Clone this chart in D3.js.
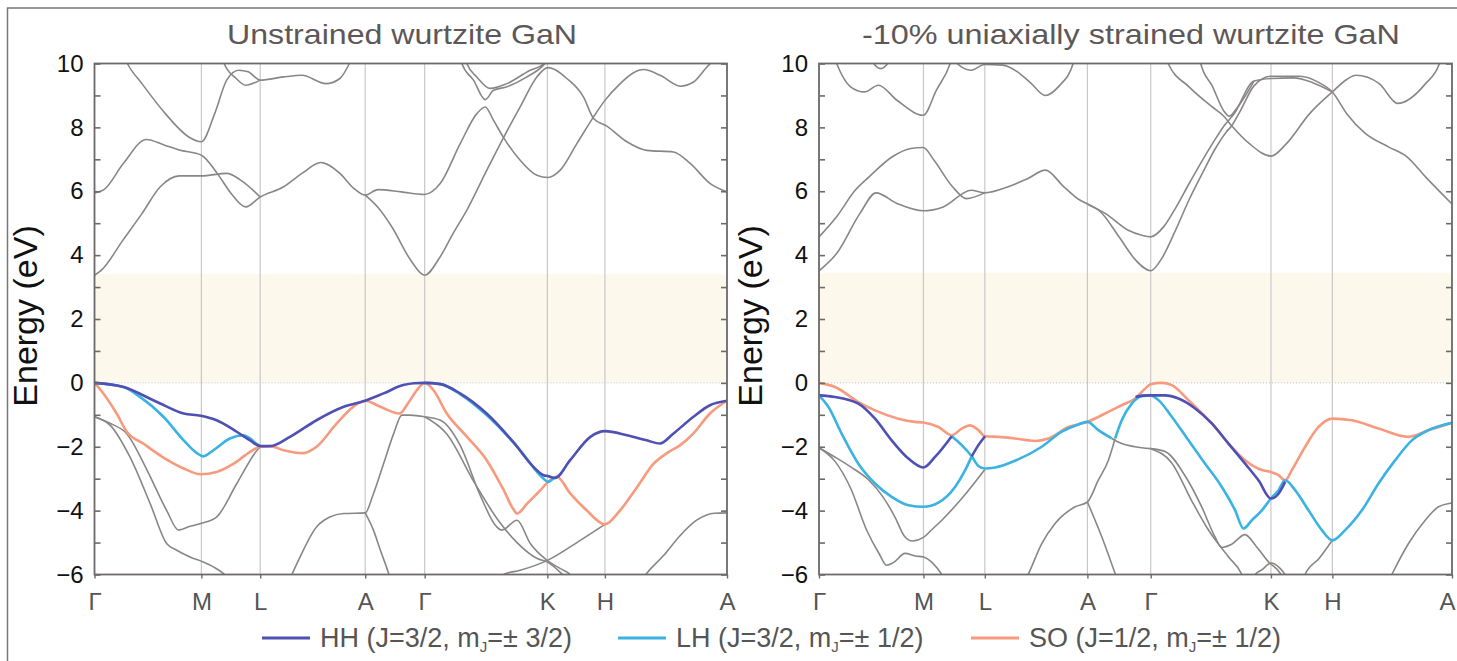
<!DOCTYPE html>
<html>
<head>
<meta charset="utf-8">
<script src="https://cdn.jsdelivr.net/npm/d3@7"></script>
<style>
  html, body { margin: 0; padding: 0; background: #fff; }
  svg { display: block; font-family: "Liberation Sans", Arial, Helvetica, sans-serif; }
</style>
</head>
<body>
<svg id="chart" width="1457" height="661"></svg>
<script>
// ---- data: k path (fraction of path length), energies in eV ----
const kLabels = ["Γ", "M", "L", "A", "Γ", "K", "H", "A"];
const kPosUnstrained = [0, 0.169, 0.262, 0.428, 0.522, 0.716, 0.807, 1];
const kPosStrained = [0, 0.165, 0.262, 0.424, 0.524, 0.714, 0.811, 1];
const energyTicks = [-6, -4, -2, 0, 2, 4, 6, 8, 10];
const titles = ["Unstrained wurtzite GaN", "-10% uniaxially strained wurtzite GaN"];
const gapUnstrained = [0, 3.4];
const gapStrained = [0, 3.45];
const legendNames = ["HH", "LH", "SO"];
const legendJ = ["3/2", "3/2", "1/2"];
const legendMJ = ["± 3/2", "± 1/2", "± 1/2"];

// unstrained valence, coloured
const unstrainedHH = [[0,0],[0.046,-0.13],[0.098,-0.59],[0.141,-0.96],[0.168,-1.03],[0.193,-1.17],[0.225,-1.53],[0.246,-1.8],[0.262,-1.98],[0.278,-1.98],[0.309,-1.69],[0.351,-1.17],[0.394,-0.75],[0.428,-0.56],[0.457,-0.33],[0.488,-0.07],[0.505,-0.01],[0.522,0],[0.547,-0.04],[0.578,-0.33],[0.62,-0.96],[0.662,-1.85],[0.694,-2.63],[0.71,-2.89],[0.717,-2.92],[0.728,-2.98],[0.752,-2.42],[0.784,-1.69],[0.807,-1.51],[0.842,-1.64],[0.873,-1.8],[0.894,-1.9],[0.915,-1.59],[0.947,-1.06],[0.973,-0.7],[1,-0.56]];
const unstrainedLH1 = [[0,0],[0.046,-0.13],[0.072,-0.44],[0.109,-1.06],[0.141,-1.8],[0.162,-2.2],[0.172,-2.3],[0.188,-2.11],[0.214,-1.74],[0.236,-1.64],[0.246,-1.74],[0.257,-1.92],[0.262,-1.98]];
const unstrainedLH2 = [[0.522,0],[0.547,-0.04],[0.578,-0.35],[0.62,-1.01],[0.673,-2.11],[0.71,-3.0],[0.717,-3.1],[0.726,-2.99],[0.731,-2.94]];
const unstrainedSO = [[0,0],[0.014,-0.33],[0.035,-0.96],[0.051,-1.53],[0.077,-1.9],[0.109,-2.34],[0.141,-2.68],[0.167,-2.86],[0.193,-2.79],[0.22,-2.53],[0.246,-2.16],[0.262,-2.0],[0.278,-1.98],[0.299,-2.11],[0.33,-2.2],[0.351,-2.0],[0.383,-1.27],[0.409,-0.75],[0.428,-0.56],[0.452,-0.75],[0.482,-0.96],[0.497,-0.6],[0.51,-0.22],[0.522,0],[0.536,-0.23],[0.557,-0.96],[0.589,-1.69],[0.62,-2.42],[0.647,-3.36],[0.662,-3.95],[0.668,-4.09],[0.684,-3.78],[0.705,-3.36],[0.717,-3.1],[0.731,-2.94],[0.752,-3.46],[0.778,-3.99],[0.807,-4.43],[0.831,-3.99],[0.858,-3.26],[0.884,-2.53],[0.905,-2.2],[0.926,-1.95],[0.947,-1.58],[0.973,-0.96],[1,-0.56]];

// unstrained other bands (grey)
const unstrainedGray = [
  [[0,-1.06],[0.025,-1.27],[0.051,-1.59],[0.083,-2.73],[0.114,-3.99],[0.133,-4.61],[0.15,-4.5],[0.168,-4.4],[0.193,-4.2],[0.225,-3.15],[0.257,-2.11],[0.262,-2.0]],
  [[0,-1.06],[0.025,-1.33],[0.056,-2.32],[0.088,-3.78],[0.114,-5.03],[0.13,-5.24],[0.151,-5.45],[0.172,-5.61],[0.188,-5.76],[0.204,-5.97],[0.215,-6.2]],
  [[0.305,-6.3],[0.312,-6.0],[0.32,-5.66],[0.351,-4.51],[0.372,-4.2],[0.394,-4.09],[0.428,-4.07],[0.441,-3.47],[0.457,-2.53],[0.473,-1.59],[0.486,-1.01],[0.499,-1.01],[0.522,-1.06]],
  [[0.428,-4.07],[0.441,-4.61],[0.452,-5.24],[0.465,-5.97],[0.47,-6.3]],
  [[0.522,-1.06],[0.547,-1.17],[0.578,-1.95],[0.61,-3.53],[0.636,-4.51],[0.644,-4.61],[0.668,-4.3],[0.689,-5.03],[0.715,-5.55],[0.736,-5.81],[0.752,-6.0],[0.76,-6.2]],
  [[0.522,-1.06],[0.557,-1.6],[0.6,-3.1],[0.64,-4.35],[0.668,-5.0],[0.7,-5.5],[0.717,-5.62],[0.74,-6.0],[0.75,-6.2]],
  [[0.64,-6.2],[0.647,-6.0],[0.673,-5.87],[0.717,-5.55],[0.768,-4.93],[0.807,-4.43]],
  [[0.865,-6.2],[0.873,-5.97],[0.9,-5.4],[0.925,-4.8],[0.952,-4.3],[0.98,-4.08],[1,-4.07]],
  [[0,3.37],[0.011,3.53],[0.045,4.47],[0.075,5.3],[0.104,6.14],[0.134,6.48],[0.169,6.48],[0.209,6.56],[0.231,6.35],[0.262,5.82]],
  [[0,5.95],[0.015,6.05],[0.045,6.85],[0.082,7.62],[0.11,7.45],[0.134,7.29],[0.169,7.13],[0.194,6.56],[0.216,5.93],[0.239,5.51],[0.262,5.82],[0.299,6.14],[0.328,6.56],[0.358,6.9],[0.388,6.56],[0.41,6.09],[0.428,5.88],[0.448,6.05],[0.485,5.98],[0.522,5.9],[0.5465,6.24],[0.5782,7.49],[0.6045,8.43],[0.6177,8.64],[0.6309,8.22],[0.6467,7.68],[0.673,6.97],[0.6994,6.5],[0.7168,6.43],[0.7363,6.66],[0.7626,7.49],[0.789,8.33],[0.8064,8.83],[0.8312,9.37],[0.8522,9.71],[0.868,9.81],[0.8944,9.63],[0.926,9.29],[0.9471,9.42],[0.9682,9.89],[0.9735,10],[0.98,10.3]],
  [[0.428,5.88],[0.448,5.5],[0.47,4.89],[0.5,3.84],[0.522,3.37],[0.545,3.9],[0.567,4.68],[0.5887,5.41],[0.6203,6.66],[0.6467,7.68],[0.673,8.64],[0.6994,9.58],[0.7168,9.87],[0.7468,9.53],[0.7732,8.95],[0.789,8.28],[0.81,8.04],[0.8417,7.55],[0.8733,7.28],[0.9155,7.23],[0.9418,6.87],[0.9735,6.24],[1,5.98]],
  [[0.045,10.3],[0.052,10],[0.075,9.37],[0.112,8.43],[0.149,7.7],[0.169,7.55],[0.19,8.43],[0.209,9.48],[0.228,9.79],[0.243,9.74],[0.262,9.48],[0.299,9.58],[0.328,9.63],[0.366,9.37],[0.388,9.53],[0.403,10],[0.41,10.3]],
  [[0.2,10.3],[0.205,10],[0.224,9.53],[0.239,9.32],[0.262,9.48]],
  [[0.578,10.3],[0.5808,10],[0.5992,9.48],[0.6177,8.87],[0.6309,9.16],[0.652,9.27],[0.6836,9.58],[0.7099,9.95],[0.72,10.2]],
  [[0.585,10.3],[0.5887,10],[0.6045,9.58],[0.6256,9.22],[0.652,9.37],[0.6888,9.79],[0.7099,9.98],[0.72,10.2]]
];

// strained valence, coloured
const strainedHH1 = [[0,-0.39],[0.0253,-0.44],[0.0622,-0.65],[0.0885,-1.12],[0.1148,-1.8],[0.1412,-2.37],[0.1649,-2.65],[0.1833,-2.32],[0.2097,-1.67]];
const strainedHH2 = [[0.2413,-2.3],[0.2518,-1.95],[0.2623,-1.67]];
const strainedHH3 = [[0.5,-0.44],[0.5099,-0.4],[0.524,-0.39],[0.5468,-0.39],[0.5679,-0.49],[0.5942,-0.8],[0.6205,-1.27],[0.6469,-1.9],[0.6732,-2.53],[0.6943,-3.05],[0.714,-3.62],[0.7259,-3.47],[0.7364,-3.1]];
const strainedLH1 = [[0,-0.39],[0.0147,-0.75],[0.0358,-1.59],[0.0622,-2.53],[0.0885,-3.15],[0.1148,-3.57],[0.1412,-3.83],[0.1649,-3.88],[0.1886,-3.75],[0.2149,-3.26],[0.2307,-2.74],[0.2413,-2.3]];
const strainedLH2 = [[0.2097,-1.67],[0.2255,-1.95],[0.2413,-2.3],[0.2518,-2.6],[0.2623,-2.68],[0.2781,-2.65],[0.3097,-2.44],[0.3519,-2.0],[0.3835,-1.53],[0.4098,-1.3],[0.424,-1.22],[0.4414,-1.48],[0.4625,-1.74]];
const strainedLH3 = [[0.4678,-1.74],[0.4783,-1.17],[0.4941,-0.65],[0.5099,-0.42],[0.524,-0.39],[0.5363,-0.54],[0.5573,-1.06],[0.5837,-1.8],[0.61,-2.53],[0.6364,-3.26],[0.6574,-3.99],[0.6706,-4.56],[0.6838,-4.3],[0.6996,-3.99],[0.714,-3.62],[0.7259,-3.36],[0.7364,-3.05],[0.7522,-3.36],[0.7733,-3.99],[0.7944,-4.61],[0.811,-4.93],[0.8312,-4.61],[0.8576,-3.99],[0.8839,-3.15],[0.9103,-2.42],[0.9366,-1.8],[0.9629,-1.48],[1,-1.25]];
const strainedSO = [[0,0],[0.0253,-0.13],[0.0622,-0.6],[0.0885,-0.86],[0.1254,-1.12],[0.1517,-1.22],[0.1649,-1.24],[0.1886,-1.38],[0.2097,-1.64],[0.2255,-1.43],[0.2387,-1.33],[0.2518,-1.48],[0.2623,-1.67],[0.2834,-1.69],[0.3097,-1.74],[0.3413,-1.82],[0.3624,-1.74],[0.394,-1.38],[0.424,-1.22],[0.4519,-0.96],[0.4783,-0.7],[0.4994,-0.49],[0.5152,-0.18],[0.524,-0.04],[0.5415,0],[0.5573,-0.07],[0.5837,-0.54],[0.6205,-1.27],[0.6469,-1.9],[0.6732,-2.42],[0.6996,-2.73],[0.714,-2.79],[0.7259,-2.89],[0.7364,-3.05],[0.747,-2.73],[0.768,-2.0],[0.7891,-1.38],[0.811,-1.12],[0.8418,-1.17],[0.8839,-1.43],[0.9313,-1.69],[0.9629,-1.48],[1,-1.25]];

// strained other bands (grey)
const strainedGray = [
  [[0,-2.03],[0.025,-2.32],[0.05,-2.63],[0.079,-3.05],[0.101,-3.57],[0.12,-4.2],[0.135,-4.8],[0.148,-4.95],[0.165,-4.84],[0.178,-4.6],[0.194,-4.3],[0.2255,-3.62],[0.262,-2.71]],
  [[0,-2.03],[0.025,-2.45],[0.05,-3.3],[0.075,-4.6],[0.095,-5.35],[0.107,-5.71],[0.118,-5.62],[0.136,-5.34],[0.152,-5.42],[0.165,-5.45],[0.18,-5.65],[0.194,-6],[0.2,-6.2]],
  [[0.325,-6.2],[0.331,-5.97],[0.3519,-5.03],[0.373,-4.4],[0.4046,-3.88],[0.424,-3.73],[0.4414,-3.04],[0.4572,-2.42],[0.4678,-1.74]],
  [[0.424,-3.73],[0.4467,-4.82],[0.4678,-5.97],[0.472,-6.2]],
  [[0.4625,-1.74],[0.4783,-1.9],[0.4994,-2.0],[0.524,-2.06]],
  [[0.524,-2.06],[0.5468,-2.15],[0.578,-2.9],[0.605,-3.9],[0.625,-4.8],[0.636,-5.15],[0.652,-5.05],[0.673,-4.75],[0.69,-5.1],[0.71,-5.6],[0.73,-6],[0.735,-6.2]],
  [[0.524,-2.06],[0.557,-2.5],[0.589,-3.7],[0.615,-4.6],[0.647,-5.45],[0.668,-6],[0.672,-6.2]],
  [[0.685,-6.2],[0.689,-6],[0.7,-5.85],[0.714,-5.64],[0.728,-5.8],[0.736,-6],[0.74,-6.2]],
  [[0.765,-6.2],[0.768,-6],[0.79,-5.5],[0.811,-4.93]],
  [[0.9,-6.2],[0.905,-6],[0.9313,-5.03],[0.9577,-4.3],[0.9788,-3.88],[1,-3.76]],
  [[0,3.51],[0.0278,4.05],[0.0645,5.3],[0.0901,5.95],[0.1231,5.62],[0.1648,5.39],[0.1963,5.51],[0.2403,6.03],[0.2615,5.95],[0.2989,6.14],[0.33,6.4],[0.3575,6.66],[0.3868,6.14],[0.41,5.75],[0.424,5.6],[0.4527,5.3],[0.4894,4.77],[0.51,4.62],[0.524,4.57],[0.545,4.9],[0.5626,5.45],[0.585,6.25],[0.6066,7.0],[0.625,7.6],[0.64,8.05],[0.655,8.4],[0.6872,9.45],[0.714,9.53],[0.75,9.55],[0.78,9.4],[0.811,9.11]],
  [[0,4.57],[0.0278,5.2],[0.0571,6.03],[0.0791,6.45],[0.1158,7.08],[0.145,7.34],[0.1648,7.37],[0.1817,6.97],[0.211,6.14],[0.233,5.77],[0.2615,5.95]],
  [[0.424,5.6],[0.445,5.35],[0.4747,4.55],[0.5,3.85],[0.524,3.51],[0.54,3.85],[0.5626,4.75],[0.585,5.75],[0.6066,6.6],[0.625,7.3],[0.6432,7.85],[0.652,8.05],[0.6652,8.5],[0.6872,9.3],[0.714,9.6],[0.76,9.6],[0.79,9.4],[0.811,9.11],[0.8337,8.43],[0.863,7.81],[0.8996,7.39],[0.9289,7.08],[0.9582,6.45],[1,5.6]],
  [[0.548,10.3],[0.5516,10],[0.5846,9.27],[0.6212,8.64],[0.6396,8.35],[0.652,8.05],[0.68,7.49],[0.714,7.1],[0.7385,7.49],[0.7751,8.43],[0.811,9.11],[0.8337,9.5],[0.8484,9.63],[0.885,9.37],[0.9143,8.75],[0.9582,9.37],[0.9802,10],[0.985,10.3]],
  [[0.6,10.3],[0.603,10],[0.6212,9.3],[0.64,8.5],[0.648,8.35],[0.66,8.6],[0.6872,9.45]],
  [[0.022,10.3],[0.0278,10],[0.0498,9.27],[0.0718,9.11],[0.0938,9.32],[0.1231,8.85],[0.1648,8.38],[0.1853,9.16],[0.2073,10],[0.212,10.3]],
  [[0.083,10.3],[0.0865,10],[0.0974,9.84],[0.1084,10],[0.112,10.3]],
  [[0.214,10.3],[0.2183,10],[0.2403,9.79],[0.2615,9.97],[0.29,9.95],[0.3136,9.74],[0.3355,9.37],[0.3575,9.0],[0.3795,9.3],[0.4015,10],[0.405,10.3]]
];

// ---- layout & style ----
const layout = {
  top: 63.5, bottom: 574.5,
  boxes: [{left: 94.5, right: 727}, {left: 819, right: 1452}],
  titleX: [402, 1131], titleW: [350, 538], titleY: 44,
  ylabelX: [37, 762], ylabelY: 316,
  legendY: 638, legendLineX: [262, 618, 971], legendLineW: 48
};
const colors = {HH: "#4f50b4", LH: "#3ab2e3", SO: "#f79a7e", gray: "#8a8686", grid: "#cbc7c7", frame: "#6e6a6a", gap: "#fcf8ec"};

const panels = [
  {id: 0, kPos: kPosUnstrained, gap: gapUnstrained, gray: unstrainedGray, so: [unstrainedSO], lh: [unstrainedLH1, unstrainedLH2], hh: [unstrainedHH]},
  {id: 1, kPos: kPosStrained, gap: gapStrained, gray: strainedGray, so: [strainedSO], lh: [strainedLH1, strainedLH2, strainedLH3], hh: [strainedHH1, strainedHH2, strainedHH3]}
];

const svg = d3.select("#chart");
const defs = svg.append("defs");

// outer frame of the figure
svg.append("rect")
  .attr("x", 7.5).attr("y", 8)
  .attr("width", 1480).attr("height", 700)
  .attr("fill", "none").attr("stroke", "#777").attr("stroke-width", 1.5);

function drawPanel(p) {
  const box = layout.boxes[p.id];
  const x = d3.scaleLinear().domain([0, 1]).range([box.left, box.right]);
  const y = d3.scaleLinear().domain([-6, 10]).range([layout.bottom, layout.top]);

  defs.append("clipPath").attr("id", "clip" + p.id)
    .append("rect")
    .attr("x", box.left).attr("y", layout.top)
    .attr("width", box.right - box.left).attr("height", layout.bottom - layout.top);

  const g = svg.append("g");
  const plot = g.append("g").attr("clip-path", `url(#clip${p.id})`);

  // band gap region
  plot.append("rect")
    .attr("x", x(0)).attr("y", y(p.gap[1]))
    .attr("width", x(1) - x(0)).attr("height", y(p.gap[0]) - y(p.gap[1]))
    .attr("fill", colors.gap);

  plot.append("line")
    .attr("x1", x(0)).attr("x2", x(1)).attr("y1", y(0)).attr("y2", y(0))
    .attr("stroke", "#b9cad6").attr("stroke-width", 1).attr("stroke-dasharray", "1,2");

  plot.selectAll("line.kline")
    .data(p.kPos)
    .join("line")
    .attr("class", "kline")
    .attr("x1", d => x(d)).attr("x2", d => x(d))
    .attr("y1", layout.top).attr("y2", layout.bottom)
    .attr("stroke", colors.grid).attr("stroke-width", 1.2);

  const line = d3.line()
    .x(d => x(d[0]))
    .y(d => y(d[1]))
    .curve(d3.curveMonotoneX);

  plot.selectAll("path.gray")
    .data(p.gray)
    .join("path")
    .attr("class", "gray")
    .attr("d", line)
    .attr("fill", "none").attr("stroke", colors.gray).attr("stroke-width", 1.6);

  [["so", colors.SO], ["lh", colors.LH], ["hh", colors.HH]].forEach(([key, c]) => {
    plot.selectAll("path." + key)
      .data(p[key])
      .join("path")
      .attr("class", key)
      .attr("d", line)
      .attr("fill", "none").attr("stroke", c).attr("stroke-width", 2.6)
      .attr("stroke-linejoin", "round");
  });

  // frame
  g.append("rect")
    .attr("x", box.left).attr("y", layout.top)
    .attr("width", box.right - box.left).attr("height", layout.bottom - layout.top)
    .attr("fill", "none").attr("stroke", colors.frame).attr("stroke-width", 1.8);

  // inward ticks on both sides
  const minor = d3.range(-6, 11, 1);
  const leftTicks = g.append("g").attr("transform", `translate(${box.left},0)`)
    .call(d3.axisRight(y).tickValues(minor).tickSize(6).tickFormat(""));
  const rightTicks = g.append("g").attr("transform", `translate(${box.right},0)`)
    .call(d3.axisLeft(y).tickValues(minor).tickSize(6).tickFormat(""));
  [leftTicks, rightTicks].forEach(a => {
    a.select(".domain").remove();
    a.selectAll(".tick line").attr("stroke", colors.frame).attr("stroke-width", 1.6);
  });

  // energy labels
  const yLab = g.append("g").attr("transform", `translate(${box.left},0)`)
    .call(d3.axisLeft(y).tickValues(energyTicks).tickSize(0).tickPadding(11));
  yLab.select(".domain").remove();
  yLab.selectAll("text")
    .attr("font-size", 24).attr("fill", "#111")
    .attr("font-family", "'Liberation Sans', Arial, sans-serif");

  // k-point labels
  const xAx = g.append("g").attr("transform", `translate(0,${layout.bottom})`)
    .call(d3.axisBottom(x).tickValues(p.kPos).tickFormat((d, i) => kLabels[i])
      .tickSizeInner(4).tickSizeOuter(0).tickPadding(14));
  xAx.select(".domain").remove();
  xAx.selectAll(".tick line").attr("stroke", colors.frame).attr("stroke-width", 1.4);
  xAx.selectAll("text")
    .attr("font-size", 24).attr("fill", "#555")
    .attr("font-family", "'Liberation Sans', Arial, sans-serif");
  // keep the last label inside the page edge
  if (box.right > 1440) {
    xAx.selectAll("text").filter((d, i) => i === p.kPos.length - 1).attr("dx", -5);
  }

  // axis title
  svg.append("text")
    .attr("transform", `translate(${layout.ylabelX[p.id]},${layout.ylabelY}) rotate(-90)`)
    .attr("text-anchor", "middle")
    .attr("font-size", 34).attr("fill", "#111")
    .text("Energy (eV)");

  // panel title
  svg.append("text")
    .attr("x", layout.titleX[p.id] - layout.titleW[p.id] / 2)
    .attr("y", layout.titleY)
    .attr("font-size", 28).attr("fill", "#5d5857")
    .attr("textLength", layout.titleW[p.id])
    .attr("lengthAdjust", "spacingAndGlyphs")
    .text(titles[p.id]);
}

panels.forEach(drawPanel);

// legend
const legend = svg.append("g");
legendNames.forEach((name, i) => {
  const lx = layout.legendLineX[i];
  legend.append("line")
    .attr("x1", lx).attr("x2", lx + layout.legendLineW)
    .attr("y1", layout.legendY).attr("y2", layout.legendY)
    .attr("stroke", colors[name]).attr("stroke-width", 3);
  const t = legend.append("text")
    .attr("x", lx + layout.legendLineW + 10).attr("y", layout.legendY + 9)
    .attr("font-size", 27).attr("fill", "#555");
  t.append("tspan").text(`${name} (J=${legendJ[i]}, m`);
  t.append("tspan").attr("font-size", 15).attr("dy", 5).text("J");
  t.append("tspan").attr("dy", -5).text(`=${legendMJ[i]})`);
});
</script>
</body>
</html>
